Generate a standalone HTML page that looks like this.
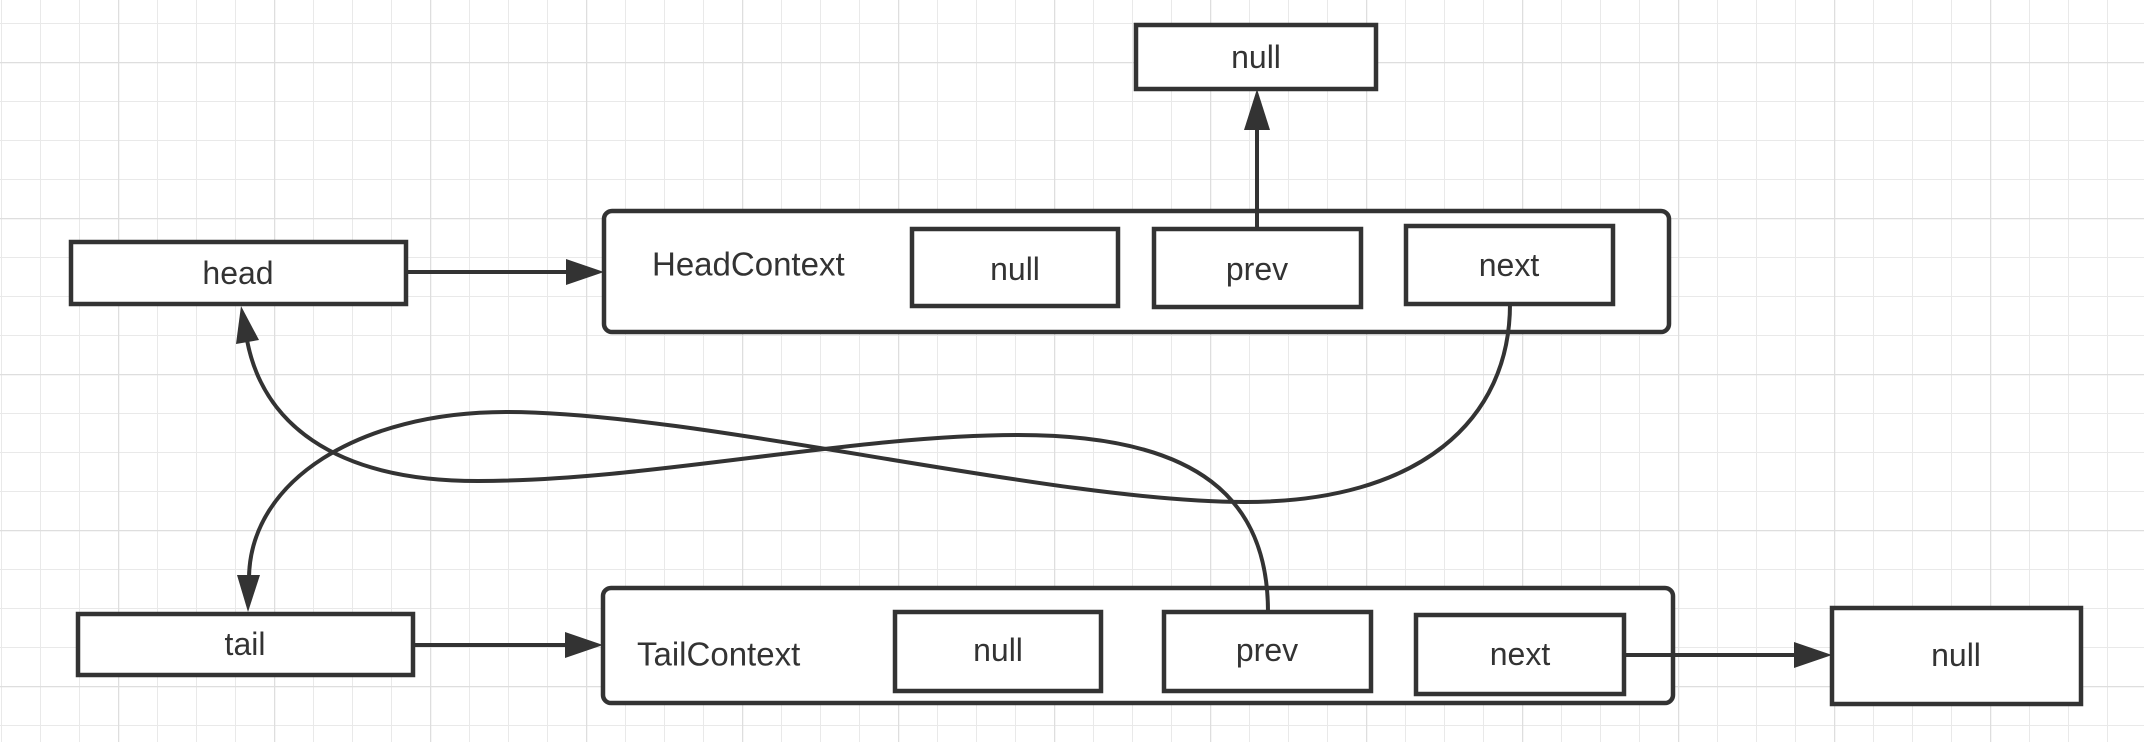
<!DOCTYPE html>
<html><head><meta charset="utf-8"><style>
html,body{margin:0;padding:0;background:#fff}
svg{display:block}
text{font-family:"Liberation Sans",Arial,sans-serif;font-size:32px;fill:#333;dominant-baseline:central}
text.big{font-size:33px}
</style></head><body>
<svg width="2144" height="742" viewBox="0 0 2144 742" xmlns="http://www.w3.org/2000/svg">
<defs>
<pattern id="g" x="1" y="23" width="39" height="39" patternUnits="userSpaceOnUse">
<path d="M0 0H39M0 0V39" stroke="#e9e9e9" stroke-width="2" fill="none"/>
</pattern>
<pattern id="G" x="118" y="62" width="156" height="156" patternUnits="userSpaceOnUse">
<path d="M0 0H156M0 0V156" stroke="#dedede" stroke-width="2.5" fill="none"/>
</pattern>
</defs>
<rect width="2144" height="742" fill="url(#g)"/>
<rect width="2144" height="742" fill="url(#G)"/>

<g stroke="#333" stroke-width="4.5" fill="#fff">
<rect x="1136" y="25" width="240" height="64"/>
<rect x="71" y="242" width="335" height="62"/>
<rect x="604" y="211" width="1065" height="121" rx="8"/>
<rect x="912" y="229" width="206" height="77"/>
<rect x="1154" y="229" width="207" height="78"/>
<rect x="1406" y="226" width="207" height="78"/>
<rect x="78" y="614" width="335" height="61"/>
<rect x="603" y="588" width="1070" height="115" rx="8"/>
<rect x="895" y="612" width="206" height="79"/>
<rect x="1164" y="612" width="207" height="79"/>
<rect x="1416" y="615" width="208" height="79"/>
<rect x="1832" y="608" width="249" height="96"/>
</g>

<g stroke="#333" stroke-width="4" fill="none">
<path d="M1257 229 L1257 128"/>
<path d="M406 272 L570 272"/>
<path d="M413 645 L568 645"/>
<path d="M1624 655 L1798 655"/>
<path d="M1510 304 C1510 420 1420 502 1245 502 C1050 502 700 412 506 412 C360 412 250 480 249 578"/>
<path d="M1268 612 C1268 500 1200 435 1018 435 C850 435 650 481 478 481 C330 481 262 420 247 340"/>
</g>
<g fill="#333">
<polygon points="1257,89 1244,130 1270,130"/>
<polygon points="604,272 566,259 566,285"/>
<polygon points="603,645 565,632 565,658"/>
<polygon points="1832,655 1794,642 1794,668"/>
<polygon points="248,612 237,575 260,575"/>
<polygon points="241,306 236,344 259,340"/>
</g>

<g>
<text x="1256" y="57" text-anchor="middle">null</text>
<text x="238" y="273" text-anchor="middle">head</text>
<text class="big" x="652" y="264">HeadContext</text>
<text x="1015" y="269" text-anchor="middle">null</text>
<text x="1257" y="269" text-anchor="middle">prev</text>
<text x="1509" y="265" text-anchor="middle">next</text>
<text x="245" y="644" text-anchor="middle">tail</text>
<text class="big" x="637" y="654">TailContext</text>
<text x="998" y="650" text-anchor="middle">null</text>
<text x="1267" y="650" text-anchor="middle">prev</text>
<text x="1520" y="654" text-anchor="middle">next</text>
<text x="1956" y="655" text-anchor="middle">null</text>
</g>
</svg>
</body></html>
